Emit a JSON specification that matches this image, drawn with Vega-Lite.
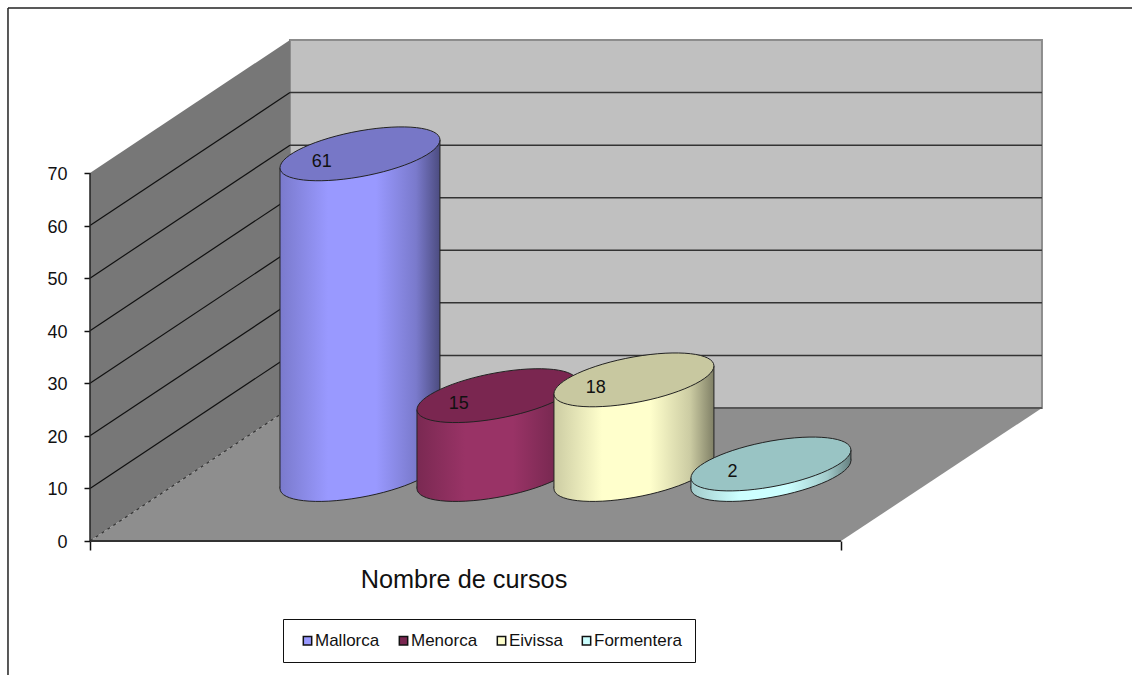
{
"$schema":"https://vega.github.io/schema/vega-lite/v6.json",
"width":1132,"height":675,"autosize":"none","padding":0,"background":"white",
"config":{"view":{"stroke":null},"font":"Liberation Sans"},
"datasets":{
"marc":[{"x":-10.92,"y":101.39,"x2":138.8,"y2":101.39},{"x":-10.92,"y":101.39,"x2":-10.92,"y2":-25.5}],
"paretlat":[{"x":0,"y":70,"y2":0},{"x":26.63,"y":95.3,"y2":25.3}],
"terra":[{"x":0,"y":0,"y2":0},{"x":26.63,"y":25.3,"y2":0},{"x":100,"y":25.3,"y2":0},{"x":126.76,"y":25.3,"y2":25.3}],
"fons":[{"x":26.63,"x2":126.76,"y":95.3,"y2":25.3}],
"graella":[{"v":10},{"v":20},{"v":30},{"v":40},{"v":50},{"v":60}]
},
"data":{"values":[
{"illa":"Mallorca","n":61,"ordre":1},
{"illa":"Menorca","n":15,"ordre":2},
{"illa":"Eivissa","n":18,"ordre":3},
{"illa":"Formentera","n":2,"ordre":4}
]},
"transform":[{"calculate":"17.71+18.24*datum.ordre","as":"xc"}],
"encoding":{
"x":{"field":"x","type":"quantitative","title":"Nombre de cursos","scale":{"domain":[-11.984,138.75],"nice":false,"zero":false},
 "axis":{"orient":"bottom","offset":-134,"values":[0,100],"labels":false,"domain":false,"grid":false,"ticks":true,"tickSize":9,"tickColor":"#111","tickWidth":1.5,
 "titleFont":"Liberation Sans","titleFontSize":25.3,"titleFontWeight":"normal","titleColor":"#111","titleX":463.5,"titleY":38,"titleBaseline":"middle","titleAlign":"center","titleAnchor":null}},
"y":{"field":"y","type":"quantitative","title":null,"scale":{"domain":[-25.49,102.91],"nice":false,"zero":false},
 "axis":{"orient":"left","offset":-90,"values":[0,10,20,30,40,50,60,70],"domain":false,"grid":false,"tickSize":6,"tickColor":"#111","tickWidth":1.5,"labelPadding":17,"labelOffset":1.5,"labelFont":"Liberation Sans","labelFontSize":18,"labelColor":"#111"}}
},
"layer":[
{"data":{"name":"marc"},"mark":{"type":"rule","color":"#222","strokeWidth":1.5},"encoding":{"x2":{"field":"x2"},"y2":{"field":"y2"}}},
{"data":{"name":"fons"},"mark":{"type":"rect","fill":"#C0C0C0","stroke":"#8c8c8c","strokeWidth":2},"encoding":{"x2":{"field":"x2"},"y2":{"field":"y2"}}},
{"data":{"name":"paretlat"},"mark":{"type":"area","orient":"vertical","fill":"#777777"},"encoding":{"y2":{"field":"y2"}}},
{"data":{"name":"terra"},"mark":{"type":"area","orient":"vertical","fill":"#8E8E8E"},"encoding":{"y2":{"field":"y2"}}},
{"data":{"name":"graella"},"transform":[{"calculate":"0","as":"x"},{"calculate":"datum.v","as":"y"},{"calculate":"26.63","as":"x2"},{"calculate":"datum.v+25.3","as":"y2"}],
 "mark":{"type":"rule","color":"#111","strokeWidth":1.2},"encoding":{"x2":{"field":"x2"},"y2":{"field":"y2"}}},
{"data":{"name":"graella"},"transform":[{"calculate":"26.63","as":"x"},{"calculate":"datum.v+25.3","as":"y"},{"calculate":"126.76","as":"x2"}],
 "mark":{"type":"rule","color":"#333","strokeWidth":1.5},"encoding":{"x2":{"field":"x2"}}},
{"data":{"values":[{"x":0,"y":0,"x2":26.63,"y2":25.3}]},"mark":{"type":"rule","color":"#333","strokeWidth":1.2,"strokeDash":[3,4]},"encoding":{"x2":{"field":"x2"},"y2":{"field":"y2"}}},
{"data":{"values":[{"x":26.63,"y":25.3,"x2":126.76}]},"mark":{"type":"rule","color":"#444","strokeWidth":1.5},"encoding":{"x2":{"field":"x2"}}},
{"data":{"values":[{"x":0,"y":0,"x2":100}]},"mark":{"type":"rule","color":"#333","strokeWidth":2},"encoding":{"x2":{"field":"x2"}}},
{"data":{"values":[{"x":0,"y":0,"y2":70}]},"mark":{"type":"rule","color":"#222","strokeWidth":1.5},"encoding":{"y2":{"field":"y2"}}},
{"transform":[{"calculate":"datum.xc","as":"x"},{"calculate":"12.65","as":"y"}],
 "mark":{"type":"square","size":100,"opacity":1},
 "encoding":{"color":{"field":"illa","type":"nominal","title":null,"scale":{"domain":["Mallorca","Menorca","Eivissa","Formentera"],"range":["#9999FF","#7A2650","#FFFFCC","#CCFFFF"]},
  "legend":{"orient":"none","legendX":283,"legendY":619,"direction":"horizontal","columns":4,"columnPadding":12,"padding":13,"strokeColor":"#111","fillColor":"white","symbolType":"square","symbolSize":70,"symbolStrokeColor":"#111","symbolStrokeWidth":1.5,"symbolOpacity":1,"symbolOffset":3,"labelOffset":-1,"labelFont":"Liberation Sans","labelFontSize":17,"labelColor":"#111"}}}},

{"transform":[{"filter":"datum.ordre==1"}],"layer":[
 {"transform":[{"calculate":"datum.xc","as":"x"},{"calculate":"12.65","as":"y"}],
  "mark":{"type":"point","shape":"M1,-0.175C1,-0.0162,0.5523,0.1908,0,0.2875C-0.5523,0.3842,-1,0.3338,-1,0.175C-1,0.0162,-0.5523,-0.1908,0,-0.2875C0.5523,-0.3842,1,-0.3338,1,-0.175Z","size":25600,"filled":true,"opacity":1,"stroke":"#222","strokeWidth":1,"fill":{"x1":0,"x2":1,"y1":0,"y2":0,"gradient":"linear","stops":[{"offset":0,"color":"#7A7ACC"},{"offset":0.3,"color":"#9999FF"},{"offset":0.6,"color":"#9999FF"},{"offset":0.85,"color":"#7A7ACC"},{"offset":1,"color":"#4C4C80"}]}}},
 {"transform":[{"calculate":"[-1,1]","as":"costat"},{"flatten":["costat"]},{"calculate":"datum.xc+datum.costat*10.65","as":"x"},{"calculate":"datum.n+12.65+datum.costat*2.663","as":"y"},{"calculate":"12.65+datum.costat*2.663","as":"y2"}],
  "layer":[
  {"mark":{"type":"area","orient":"vertical","fill":{"x1":0,"x2":1,"y1":0,"y2":0,"gradient":"linear","stops":[{"offset":0,"color":"#7A7ACC"},{"offset":0.3,"color":"#9999FF"},{"offset":0.6,"color":"#9999FF"},{"offset":0.85,"color":"#7A7ACC"},{"offset":1,"color":"#4C4C80"}]}},"encoding":{"y2":{"field":"y2"}}},
  {"mark":{"type":"rule","color":"#222","strokeWidth":1},"encoding":{"y2":{"field":"y2"}}}]},
 {"transform":[{"calculate":"datum.xc","as":"x"},{"calculate":"datum.n+12.65","as":"y"}],
  "mark":{"type":"point","shape":"M1,-0.175C1,-0.0162,0.5523,0.1908,0,0.2875C-0.5523,0.3842,-1,0.3338,-1,0.175C-1,0.0162,-0.5523,-0.1908,0,-0.2875C0.5523,-0.3842,1,-0.3338,1,-0.175Z","size":25600,"filled":true,"opacity":1,"stroke":"#222","strokeWidth":1,"fill":"#7777C7"}},
 {"transform":[{"calculate":"datum.xc-5.1","as":"x"},{"calculate":"datum.n+12.65-1.5","as":"y"}],
  "mark":{"type":"text","font":"Liberation Sans","fontSize":18,"color":"#111","align":"center","baseline":"middle"},"encoding":{"text":{"field":"n","type":"quantitative"}}}
]},

{"transform":[{"filter":"datum.ordre==2"}],"layer":[
 {"transform":[{"calculate":"datum.xc","as":"x"},{"calculate":"12.65","as":"y"}],
  "mark":{"type":"point","shape":"M1,-0.175C1,-0.0162,0.5523,0.1908,0,0.2875C-0.5523,0.3842,-1,0.3338,-1,0.175C-1,0.0162,-0.5523,-0.1908,0,-0.2875C0.5523,-0.3842,1,-0.3338,1,-0.175Z","size":25600,"filled":true,"opacity":1,"stroke":"#222","strokeWidth":1,"fill":{"x1":0,"x2":1,"y1":0,"y2":0,"gradient":"linear","stops":[{"offset":0,"color":"#7A2952"},{"offset":0.3,"color":"#993366"},{"offset":0.6,"color":"#993366"},{"offset":0.85,"color":"#7A2952"},{"offset":1,"color":"#5C1F3D"}]}}},
 {"transform":[{"calculate":"[-1,1]","as":"costat"},{"flatten":["costat"]},{"calculate":"datum.xc+datum.costat*10.65","as":"x"},{"calculate":"datum.n+12.65+datum.costat*2.663","as":"y"},{"calculate":"12.65+datum.costat*2.663","as":"y2"}],
  "layer":[
  {"mark":{"type":"area","orient":"vertical","fill":{"x1":0,"x2":1,"y1":0,"y2":0,"gradient":"linear","stops":[{"offset":0,"color":"#7A2952"},{"offset":0.3,"color":"#993366"},{"offset":0.6,"color":"#993366"},{"offset":0.85,"color":"#7A2952"},{"offset":1,"color":"#5C1F3D"}]}},"encoding":{"y2":{"field":"y2"}}},
  {"mark":{"type":"rule","color":"#222","strokeWidth":1},"encoding":{"y2":{"field":"y2"}}}]},
 {"transform":[{"calculate":"datum.xc","as":"x"},{"calculate":"datum.n+12.65","as":"y"}],
  "mark":{"type":"point","shape":"M1,-0.175C1,-0.0162,0.5523,0.1908,0,0.2875C-0.5523,0.3842,-1,0.3338,-1,0.175C-1,0.0162,-0.5523,-0.1908,0,-0.2875C0.5523,-0.3842,1,-0.3338,1,-0.175Z","size":25600,"filled":true,"opacity":1,"stroke":"#222","strokeWidth":1,"fill":"#7A2650"}},
 {"transform":[{"calculate":"datum.xc-5.1","as":"x"},{"calculate":"datum.n+12.65-1.5","as":"y"}],
  "mark":{"type":"text","font":"Liberation Sans","fontSize":18,"color":"#111","align":"center","baseline":"middle"},"encoding":{"text":{"field":"n","type":"quantitative"}}}
]},

{"transform":[{"filter":"datum.ordre==3"}],"layer":[
 {"transform":[{"calculate":"datum.xc","as":"x"},{"calculate":"12.65","as":"y"}],
  "mark":{"type":"point","shape":"M1,-0.175C1,-0.0162,0.5523,0.1908,0,0.2875C-0.5523,0.3842,-1,0.3338,-1,0.175C-1,0.0162,-0.5523,-0.1908,0,-0.2875C0.5523,-0.3842,1,-0.3338,1,-0.175Z","size":25600,"filled":true,"opacity":1,"stroke":"#222","strokeWidth":1,"fill":{"x1":0,"x2":1,"y1":0,"y2":0,"gradient":"linear","stops":[{"offset":0,"color":"#CCCCA3"},{"offset":0.3,"color":"#FFFFCC"},{"offset":0.6,"color":"#FFFFCC"},{"offset":0.85,"color":"#CCCCA3"},{"offset":1,"color":"#808066"}]}}},
 {"transform":[{"calculate":"[-1,1]","as":"costat"},{"flatten":["costat"]},{"calculate":"datum.xc+datum.costat*10.65","as":"x"},{"calculate":"datum.n+12.65+datum.costat*2.663","as":"y"},{"calculate":"12.65+datum.costat*2.663","as":"y2"}],
  "layer":[
  {"mark":{"type":"area","orient":"vertical","fill":{"x1":0,"x2":1,"y1":0,"y2":0,"gradient":"linear","stops":[{"offset":0,"color":"#CCCCA3"},{"offset":0.3,"color":"#FFFFCC"},{"offset":0.6,"color":"#FFFFCC"},{"offset":0.85,"color":"#CCCCA3"},{"offset":1,"color":"#808066"}]}},"encoding":{"y2":{"field":"y2"}}},
  {"mark":{"type":"rule","color":"#222","strokeWidth":1},"encoding":{"y2":{"field":"y2"}}}]},
 {"transform":[{"calculate":"datum.xc","as":"x"},{"calculate":"datum.n+12.65","as":"y"}],
  "mark":{"type":"point","shape":"M1,-0.175C1,-0.0162,0.5523,0.1908,0,0.2875C-0.5523,0.3842,-1,0.3338,-1,0.175C-1,0.0162,-0.5523,-0.1908,0,-0.2875C0.5523,-0.3842,1,-0.3338,1,-0.175Z","size":25600,"filled":true,"opacity":1,"stroke":"#222","strokeWidth":1,"fill":"#C8C8A0"}},
 {"transform":[{"calculate":"datum.xc-5.1","as":"x"},{"calculate":"datum.n+12.65-1.5","as":"y"}],
  "mark":{"type":"text","font":"Liberation Sans","fontSize":18,"color":"#111","align":"center","baseline":"middle"},"encoding":{"text":{"field":"n","type":"quantitative"}}}
]},

{"transform":[{"filter":"datum.ordre==4"}],"layer":[
 {"transform":[{"calculate":"datum.xc","as":"x"},{"calculate":"12.65","as":"y"}],
  "mark":{"type":"point","shape":"M1,-0.175C1,-0.0162,0.5523,0.1908,0,0.2875C-0.5523,0.3842,-1,0.3338,-1,0.175C-1,0.0162,-0.5523,-0.1908,0,-0.2875C0.5523,-0.3842,1,-0.3338,1,-0.175Z","size":25600,"filled":true,"opacity":1,"stroke":"#222","strokeWidth":1,"fill":{"x1":0,"x2":1,"y1":0,"y2":0,"gradient":"linear","stops":[{"offset":0,"color":"#A3CCCC"},{"offset":0.3,"color":"#CCFFFF"},{"offset":0.6,"color":"#CCFFFF"},{"offset":0.85,"color":"#A3CCCC"},{"offset":1,"color":"#668080"}]}}},
 {"transform":[{"calculate":"[-1,1]","as":"costat"},{"flatten":["costat"]},{"calculate":"datum.xc+datum.costat*10.65","as":"x"},{"calculate":"datum.n+12.65+datum.costat*2.663","as":"y"},{"calculate":"12.65+datum.costat*2.663","as":"y2"}],
  "layer":[
  {"mark":{"type":"area","orient":"vertical","fill":{"x1":0,"x2":1,"y1":0,"y2":0,"gradient":"linear","stops":[{"offset":0,"color":"#A3CCCC"},{"offset":0.3,"color":"#CCFFFF"},{"offset":0.6,"color":"#CCFFFF"},{"offset":0.85,"color":"#A3CCCC"},{"offset":1,"color":"#668080"}]}},"encoding":{"y2":{"field":"y2"}}},
  {"mark":{"type":"rule","color":"#222","strokeWidth":1},"encoding":{"y2":{"field":"y2"}}}]},
 {"transform":[{"calculate":"datum.xc","as":"x"},{"calculate":"datum.n+12.65","as":"y"}],
  "mark":{"type":"point","shape":"M1,-0.175C1,-0.0162,0.5523,0.1908,0,0.2875C-0.5523,0.3842,-1,0.3338,-1,0.175C-1,0.0162,-0.5523,-0.1908,0,-0.2875C0.5523,-0.3842,1,-0.3338,1,-0.175Z","size":25600,"filled":true,"opacity":1,"stroke":"#222","strokeWidth":1,"fill":"#99C4C4"}},
 {"transform":[{"calculate":"datum.xc-5.1","as":"x"},{"calculate":"datum.n+12.65-1.5","as":"y"}],
  "mark":{"type":"text","font":"Liberation Sans","fontSize":18,"color":"#111","align":"center","baseline":"middle"},"encoding":{"text":{"field":"n","type":"quantitative"}}}
]}
]
}
